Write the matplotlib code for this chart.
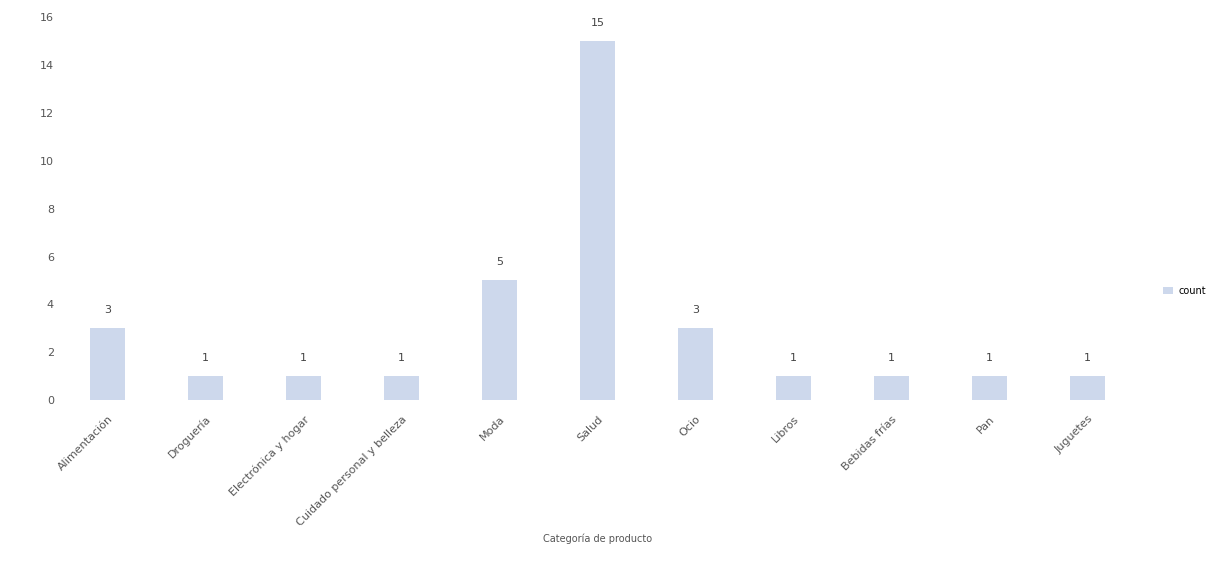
import matplotlib
matplotlib.use("Agg")
import matplotlib.pyplot as plt
import numpy as np

categories = ["Alimentación", "Droguería", "Electrónica y hogar", "Cuidado personal y belleza",
              "Moda", "Salud", "Ocio", "Libros", "Bebidas frías", "Pan", "Juguetes"]
counts = [3, 1, 1, 1, 5, 15, 3, 1, 1, 1, 1]
yticks = [0, 2, 4, 6, 8, 10, 12, 14, 16]

fig = plt.figure(figsize=(12.26, 5.65), dpi=100)
ax = fig.add_axes([0.048, 0.292, 0.879, 0.69])
x = np.arange(len(categories))
ax.bar(x, counts, width=0.36, color="#cdd8ec", label="count")
for xi, v in zip(x, counts):
    ax.text(xi, v + 0.55, str(v), ha="center", va="bottom", fontsize=8, color="#444444")

ax.set_xlim(-0.5, len(categories) - 0.5)
ax.set_ylim(0, 16.3)
ax.set_yticks(yticks)
ax.set_xticks(x)
ax.set_xticklabels(categories, rotation=45, ha="right", rotation_mode="anchor", fontsize=8, color="#555555")
ax.tick_params(axis="y", labelsize=8, labelcolor="#555555", length=0)
ax.tick_params(axis="x", length=0, pad=10)
for s in ax.spines.values():
    s.set_visible(False)
ax.set_xlabel("Categoría de producto", fontsize=7, color="#555555", labelpad=4)
ax.legend(loc="center left", bbox_to_anchor=(1.025, 0.28), frameon=False, fontsize=7,
          handlelength=1.0, handletextpad=0.5, borderaxespad=0, borderpad=0)

fig.savefig("out.png", dpi=100)
